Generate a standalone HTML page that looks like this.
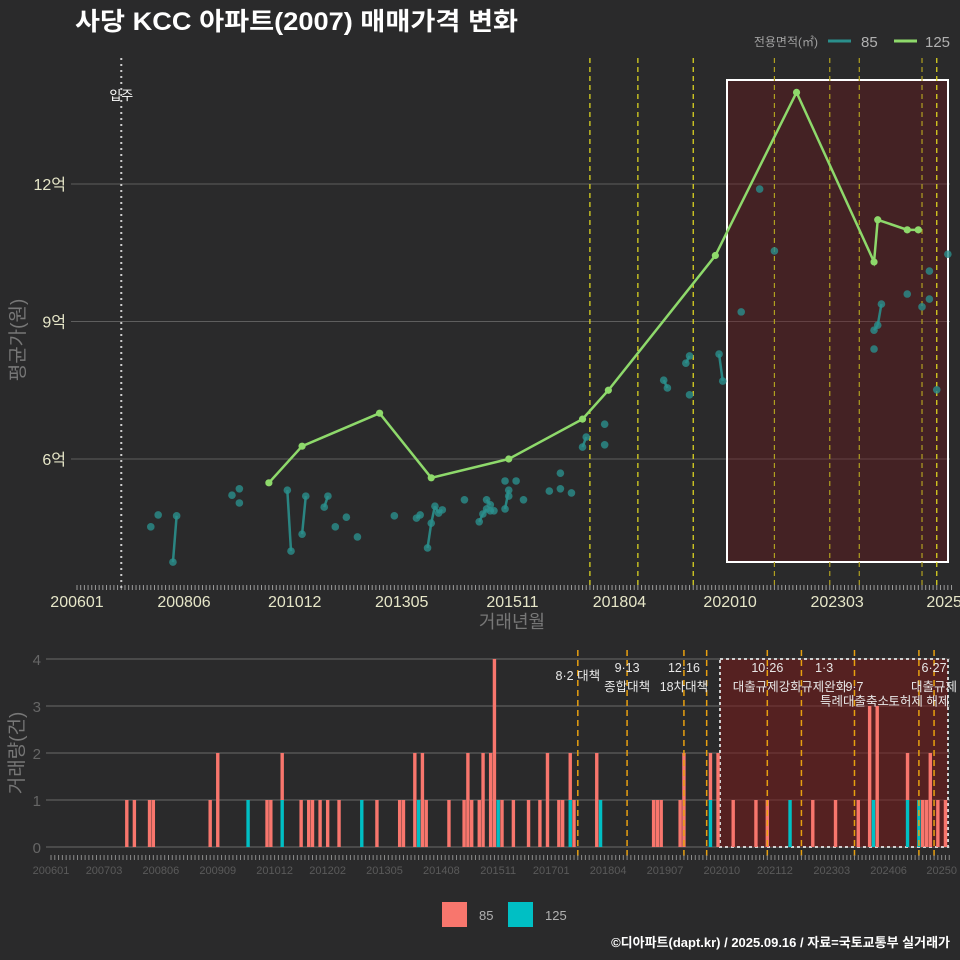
<!DOCTYPE html>
<html><head><meta charset="utf-8">
<style>
html,body{margin:0;padding:0;background:#2a2a2b;}
svg{display:block;font-family:"Liberation Sans","Noto Sans CJK KR",sans-serif;}
</style></head>
<body>
<svg id="chart" width="960" height="960" viewBox="0 0 960 960" xmlns="http://www.w3.org/2000/svg">
<rect x="0" y="0" width="960" height="960" fill="#2a2a2b"/>
<text x="75" y="30" fill="#ffffff" font-size="25" font-weight="bold" textLength="443" lengthAdjust="spacingAndGlyphs">사당 KCC 아파트(2007) 매매가격 변화</text>
<g>
<text x="818" y="46" fill="#a0a0a0" font-size="12" text-anchor="end">전용면적(㎡)</text>
<line x1="828" y1="41" x2="851" y2="41" stroke="#2a8f8c" stroke-width="3"/>
<text x="861" y="47" fill="#b0b0b0" font-size="15">85</text>
<line x1="894" y1="41" x2="917" y2="41" stroke="#8ed96b" stroke-width="3"/>
<text x="925" y="47" fill="#b0b0b0" font-size="15">125</text>
</g>
<g id="topPanel"></g>
<g id="botPanel"></g>
<g>
<rect x="442" y="902" width="25" height="25" fill="#f8766d"/>
<text x="479" y="920" fill="#b0b0b0" font-size="13">85</text>
<rect x="508" y="902" width="25" height="25" fill="#00bfc4"/>
<text x="545" y="920" fill="#b0b0b0" font-size="13">125</text>
</g>
<text x="950" y="947" fill="#ffffff" font-size="13" font-weight="bold" text-anchor="end">©디아파트(dapt.kr) / 2025.09.16 / 자료=국토교통부 실거래가</text>
</svg>
<script>
// ---- data ----
const topTickLabels = ["200601","200806","201012","201305","201511","201804","202010","202303","202508"];
const topTickText = ["200601","200806","201012","201305","201511","201804","202010","202303","2025"];
const yTicks = [6,9,12];
const yTickLabels = ["6억","9억","12억"];
const s125Months = [52,61,82,96,117,137,144,173,195,216,217,225,228];
const s125Values = [5.48,6.28,7.0,5.59,6.0,6.87,7.5,10.44,14.0,10.3,11.22,11.0,11.0];
const s85Months = [20,22,26,27,42,44,44,57,58,61,62,67,68,70,73,76,86,92,93,95,96,97,98,99,105,109,110,111,111,112,112,113,116,116,117,117,119,121,128,131,131,134,137,138,143,143,159,160,165,166,166,174,175,180,185,189,216,216,217,218,225,229,231,231,233,236];
const s85Values = [4.52,4.78,3.75,4.76,5.21,5.35,5.04,5.32,3.99,4.36,5.19,4.95,5.19,4.52,4.73,4.30,4.76,4.71,4.78,4.06,4.60,4.97,4.82,4.89,5.11,4.63,4.80,4.91,5.11,5.0,4.87,4.87,5.52,4.91,5.32,5.19,5.52,5.11,5.30,5.69,5.35,5.26,6.26,6.48,6.76,6.31,7.72,7.55,8.09,8.25,7.40,8.29,7.70,9.21,11.89,10.54,8.40,8.81,8.92,9.38,9.60,9.32,9.49,10.10,7.51,10.47];
const topPolicyMonths = [139,152,167,189,204,212,229,233];
const occupancyMonth = 12;
const botTickLabels = ["200601","200703","200806","200909","201012","201202","201305","201408","201511","201701","201804","201907","202010","202112","202303","202406","202508"];
const botTickText = ["200601","200703","200806","200909","201012","201202","201305","201408","201511","201701","201804","201907","202010","202112","202303","202406","20250"];
const barMonths = [20,22,26,27,42,44,52,57,58,61,66,68,69,71,73,76,82,86,92,93,96,97,98,99,105,109,110,111,113,114,116,117,118,119,122,126,129,131,134,135,137,138,144,145,159,160,161,166,167,174,176,180,186,189,195,201,207,213,216,217,218,226,229,230,231,232,234,236];
const bar85 =     [1,1,1,1,1,2,0,1,1,1,1,1,1,1,1,1,0,1,1,1,2,0,2,1,1,1,2,1,1,2,2,4,0,1,1,1,1,2,1,1,1,1,2,0,1,1,1,1,2,1,2,1,1,1,0,1,1,1,3,0,3,1,0,1,1,2,1,1];
const bar125 =    [0,0,0,0,0,0,1,0,0,1,0,0,0,0,0,0,1,0,0,0,0,1,0,0,0,0,0,0,0,0,0,0,1,0,0,0,0,0,0,0,1,0,0,1,0,0,0,0,0,1,0,0,0,0,1,0,0,0,0,1,0,1,1,0,0,0,0,0];
const yBarTicks = [0,1,2,3,4];
const botPolicyMonths = [139,152,167,173,189,198,212,229,233];
const annTexts = ["8·2 대책","9·13","종합대책","12·16","18차대책","10·26","대출규제강화","1·3","규제완화","9·7","특례대출축소","토허제 해제","6·27","대출규제"];
const annMonths = [139,152,152,167,167,189,189,204,204,212,212,229,233,233];
const annLevels = [1.5,1,2.2,1,2.2,1,2.2,1,2.2,2.2,3.1,3.1,1,2.2];

// ---- helpers ----
const NS="http://www.w3.org/2000/svg";
function mk(parent,tag,attrs){const e=document.createElementNS(NS,tag);for(const k in attrs)e.setAttribute(k,attrs[k]);parent.appendChild(e);return e;}
function ym(s){return (parseInt(s.slice(0,4))-2006)*12+parseInt(s.slice(4,6))-1;}
const xT=m=>77+m*3.69, yT=v=>459-(v-6)*45.83;
const xB=m=>51+m*3.79, yB=v=>847-v*47;
const topG=document.getElementById('topPanel'), botG=document.getElementById('botPanel');

// ---- top panel ----
yTicks.forEach((t,i)=>{
  const l=mk(topG,'line',{x1:71,x2:950,y1:yT(t),y2:yT(t),stroke:'#5e5e5e','stroke-width':1});
  
  
  const tx=mk(topG,'text',{x:66,y:yT(t)+6,fill:'#e6e6c8','font-size':16,'text-anchor':'end'});
  tx.textContent=yTickLabels[i];
  
  
});
const rr=mk(topG,'rect',{x:727,y:80,width:221,height:482,fill:'rgba(110,20,25,0.38)',stroke:'#ffffff','stroke-width':2});


for(let m=0;m<=237;m++){
  const t=mk(topG,'line',{x1:xT(m),x2:xT(m),y1:585,y2:590,stroke:'#9a9a9a','stroke-width':1});
  
  
}
topTickLabels.forEach((s,i)=>{
  const tx=mk(topG,'text',{x:xT(ym(s)),y:607,fill:'#e6e6c8','font-size':16,'text-anchor':'middle'});
  tx.textContent=topTickText[i];
  
  
});
const occ=mk(topG,'line',{x1:xT(occupancyMonth),x2:xT(occupancyMonth),y1:58,y2:588,stroke:'#cccccc','stroke-width':2,'stroke-dasharray':'2,4'});


const occT=mk(topG,'text',{x:xT(occupancyMonth),y:100,fill:'#ffffff','font-size':13,'text-anchor':'middle'});
occT.textContent='입주';


topPolicyMonths.forEach(m=>{
  const l=mk(topG,'line',{x1:xT(m),x2:xT(m),y1:58,y2:588,stroke:(m>=185&&m<=230)?'#b0a020':'#e8e020','stroke-width':1.2,'stroke-dasharray':'5,4'});
  
  
});
for(let i=1;i<s85Months.length;i++){
  if(s85Months[i]-s85Months[i-1]===1){
    const l=mk(topG,'line',{x1:xT(s85Months[i-1]),y1:yT(s85Values[i-1]),x2:xT(s85Months[i]),y2:yT(s85Values[i]),stroke:'#2a8f8c','stroke-width':2.5,'stroke-opacity':0.9});
    
    
  }
}
s85Months.forEach((m,i)=>{
  const c=mk(topG,'circle',{cx:xT(m),cy:yT(s85Values[i]),r:3.8,fill:'#2a8f8c','fill-opacity':0.8});
  
  
});
const pl=mk(topG,'polyline',{points:s125Months.map((m,i)=>xT(m)+','+yT(s125Values[i])).join(' '),fill:'none',stroke:'#8ed96b','stroke-width':2.5});


s125Months.forEach((m,i)=>{
  const c=mk(topG,'circle',{cx:xT(m),cy:yT(s125Values[i]),r:3.6,fill:'#8ed96b'});
  
  
});
const yt=mk(topG,'text',{x:0,y:0,fill:'#777','font-size':19,'text-anchor':'middle',transform:'translate(24,340) rotate(-90)'});
yt.textContent='평균가(원)';


const xt=mk(topG,'text',{x:512,y:628,fill:'#777','font-size':18,'text-anchor':'middle'});
xt.textContent='거래년월';



// ---- bottom panel ----
yBarTicks.forEach(t=>{
  const l=mk(botG,'line',{x1:46,x2:950,y1:yB(t),y2:yB(t),stroke:'#5e5e5e','stroke-width':1.2});
  
  
  const tx=mk(botG,'text',{x:41,y:yB(t)+6,fill:'#666','font-size':15,'text-anchor':'end'});
  tx.textContent=String(t);
  
  
});
const br=mk(botG,'rect',{x:720,y:659,width:228,height:188,fill:'rgba(120,25,25,0.55)',stroke:'#d0d0d0','stroke-width':2,'stroke-dasharray':'3,3'});


barMonths.forEach((m,i)=>{
  const w=3.4, x=xB(m)-w/2;
  if(bar125[i]>0){
    const r=mk(botG,'rect',{x:x,y:yB(bar125[i]),width:w,height:bar125[i]*47,fill:'#00bfc4'});
    
    
  }
  if(bar85[i]>0){
    const r=mk(botG,'rect',{x:x,y:yB(bar125[i]+bar85[i]),width:w,height:bar85[i]*47,fill:'#f8766d'});
    
    
  }
});
botPolicyMonths.forEach(m=>{
  const l=mk(botG,'line',{x1:xB(m),x2:xB(m),y1:650,y2:858,stroke:'#e8a010','stroke-width':1.5,'stroke-dasharray':'6,4'});
  
  
});
annTexts.forEach((s,i)=>{
  const tx=mk(botG,'text',{x:xB(annMonths[i]),y:656+annLevels[i]*16,fill:'#e8e8e8','font-size':12.5,'text-anchor':'middle'});
  tx.textContent=s;
  
  
});
for(let m=0;m<=237;m++){
  const t=mk(botG,'line',{x1:xB(m),x2:xB(m),y1:855,y2:860,stroke:'#8a8a8a','stroke-width':1});
  
  
}
botTickLabels.forEach((s,i)=>{
  const tx=mk(botG,'text',{x:xB(ym(s)),y:874,fill:'#5a5a5a','font-size':11,'text-anchor':'middle'});
  tx.textContent=botTickText[i];
  
  
});
const by=mk(botG,'text',{x:0,y:0,fill:'#777','font-size':19,'text-anchor':'middle',transform:'translate(23,753) rotate(-90)'});
by.textContent='거래량(건)';


</script>
</body></html>
